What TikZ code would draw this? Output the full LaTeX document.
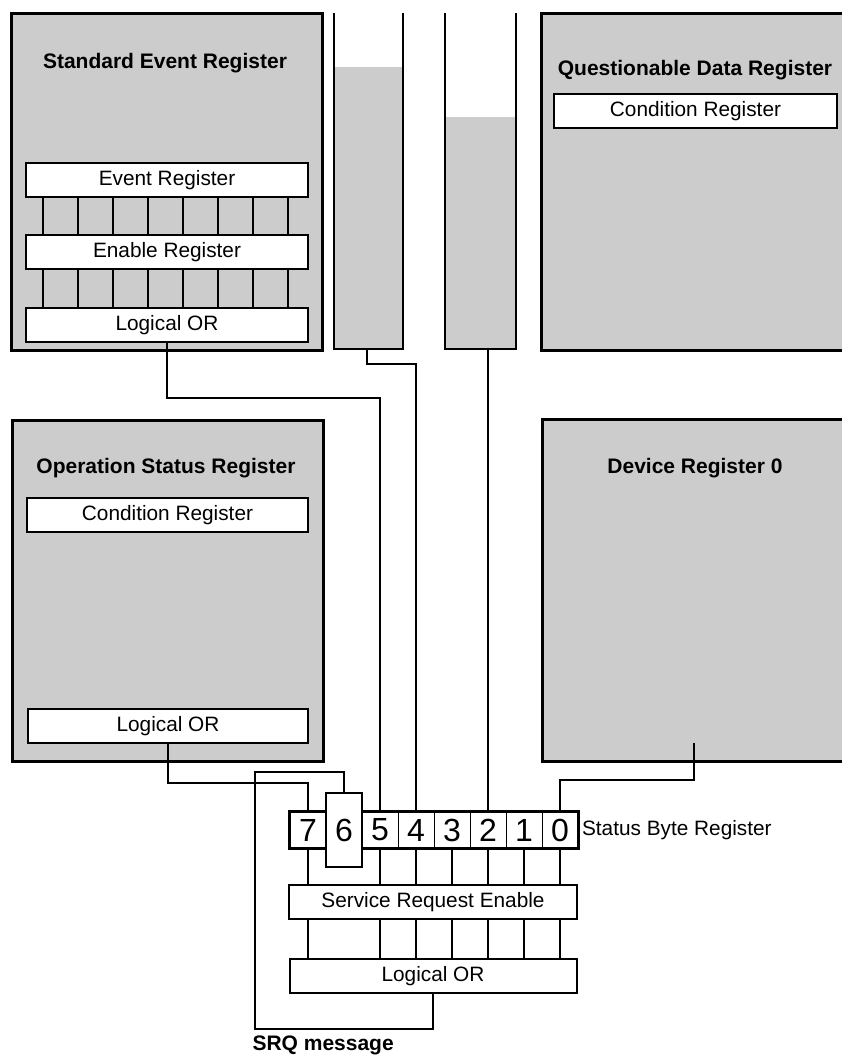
\documentclass[tikz,border=0pt]{standalone}
\usepackage{fontspec}
\setmainfont{Liberation Sans}
\usetikzlibrary{positioning,calc}

\begin{document}
\begin{tikzpicture}[x=1pt,y=-1pt,font=\fontsize{20.8}{24}\selectfont,
 frame/.style={draw,line width=2.8pt,fill=black!20,inner sep=0pt,anchor=north west},
 box/.style={draw,line width=2pt,fill=white,inner sep=0pt,minimum height=34pt},
 wide/.style={box,minimum width=282pt},
 ttl/.style={font=\fontsize{21}{24}\selectfont\bfseries},
 bit/.style={draw,line width=1pt,fill=white,minimum width=36pt,minimum height=36pt,
  inner sep=0pt,font=\fontsize{32}{32}\selectfont},
 wire/.style={line width=2.2pt}]
\path[use as bounding box,clip] (0,0) rectangle (842,1057);

\node[frame,minimum width=311pt,minimum height=337pt] (ser) at (10,12) {};
\node[ttl] (ser-t) at (165,63) {Standard Event Register};
\node[wide,anchor=north west] (ser-ev) at (25,162) {Event Register};
\node[wide,below=36pt of ser-ev] (ser-en) {Enable Register};
\node[wide,below=37pt of ser-en] (ser-or) {Logical OR};
\foreach \k in {0,...,7} {
 \draw[wire] ([xshift={18+35*\k}]ser-ev.south west) -- ([xshift={18+35*\k}]ser-en.north west);
 \draw[wire] ([xshift={18+35*\k}]ser-en.south west) -- ([xshift={18+35*\k}]ser-or.north west);
}

\fill[black!20] (334,67) rectangle (403,349);
\draw[line width=2.8pt] (334,13) |- (403,349) -- (403,13);
\coordinate (col1) at (367,349);
\fill[black!20] (445,117) rectangle (516,349);
\draw[line width=2.8pt] (445,13) |- (516,349) -- (516,13);
\coordinate (col2) at (488,349);

\node[frame,minimum width=330pt,minimum height=337pt] (qdr) at (540,12) {};
\node[ttl] (qdr-t) at (695,70) {Questionable Data Register};
\node[wide,minimum width=283pt,anchor=north west] (qdr-c) at (553,93) {Condition Register};

\node[frame,minimum width=311pt,minimum height=341pt] (osr) at (11,419) {};
\node[ttl] (osr-t) at (166,468) {Operation Status Register};
\node[wide,minimum width=281pt,anchor=north west] (osr-c) at (26,497) {Condition Register};
\node[wide,minimum width=280pt,anchor=north west] (osr-or) at (27,708) {Logical OR};

\node[frame,minimum width=330pt,minimum height=342pt] (dr0) at (541,418) {};
\node[ttl] (dr0-t) at (695,468) {Device Register 0};
\coordinate (dr0-o) at (694,743);

\foreach \b in {7,5,4,3,2,1,0}
 \node[bit] (b\b) at ({308+36*(7-\b)},830) {\b};
\draw[line width=2.8pt] (b7.north west) rectangle (b0.south east);
\node[bit,line width=2.8pt,minimum height=74pt] (b6) at (344,830) {6};
\node[anchor=west] (sbr) at (b0.east) {Status Byte Register};

\node[box,minimum width=288pt,anchor=north] (sre) at (433,884) {Service Request Enable};
\node[box,minimum width=287pt,below=38pt of sre] (lor) {Logical OR};
\foreach \b in {7,5,4,3,2,1,0} {
 \draw[wire] (b\b.south) -- (b\b.south |- sre.north);
 \draw[wire] (b\b.south |- sre.south) -- (b\b.south |- lor.north);
}

\draw[wire] (ser-or.south) -- ++(0,55) -| (b5.north);
\draw[wire] (col1) -- ++(0,15) -| (b4.north);
\draw[wire] (col2) -- (b2.north);
\draw[wire] (dr0-o) -- ++(0,37) -| (b0.north);
\draw[wire] (osr-or.south) -- ++(0,39) -| (b7.north);
\draw[wire] (lor.south) -- ++(0,35) -| (255,772) -| (b6.north);
\node[ttl,anchor=west] (srq) at (249,1045) {SRQ message};
\end{tikzpicture}
\end{document}
